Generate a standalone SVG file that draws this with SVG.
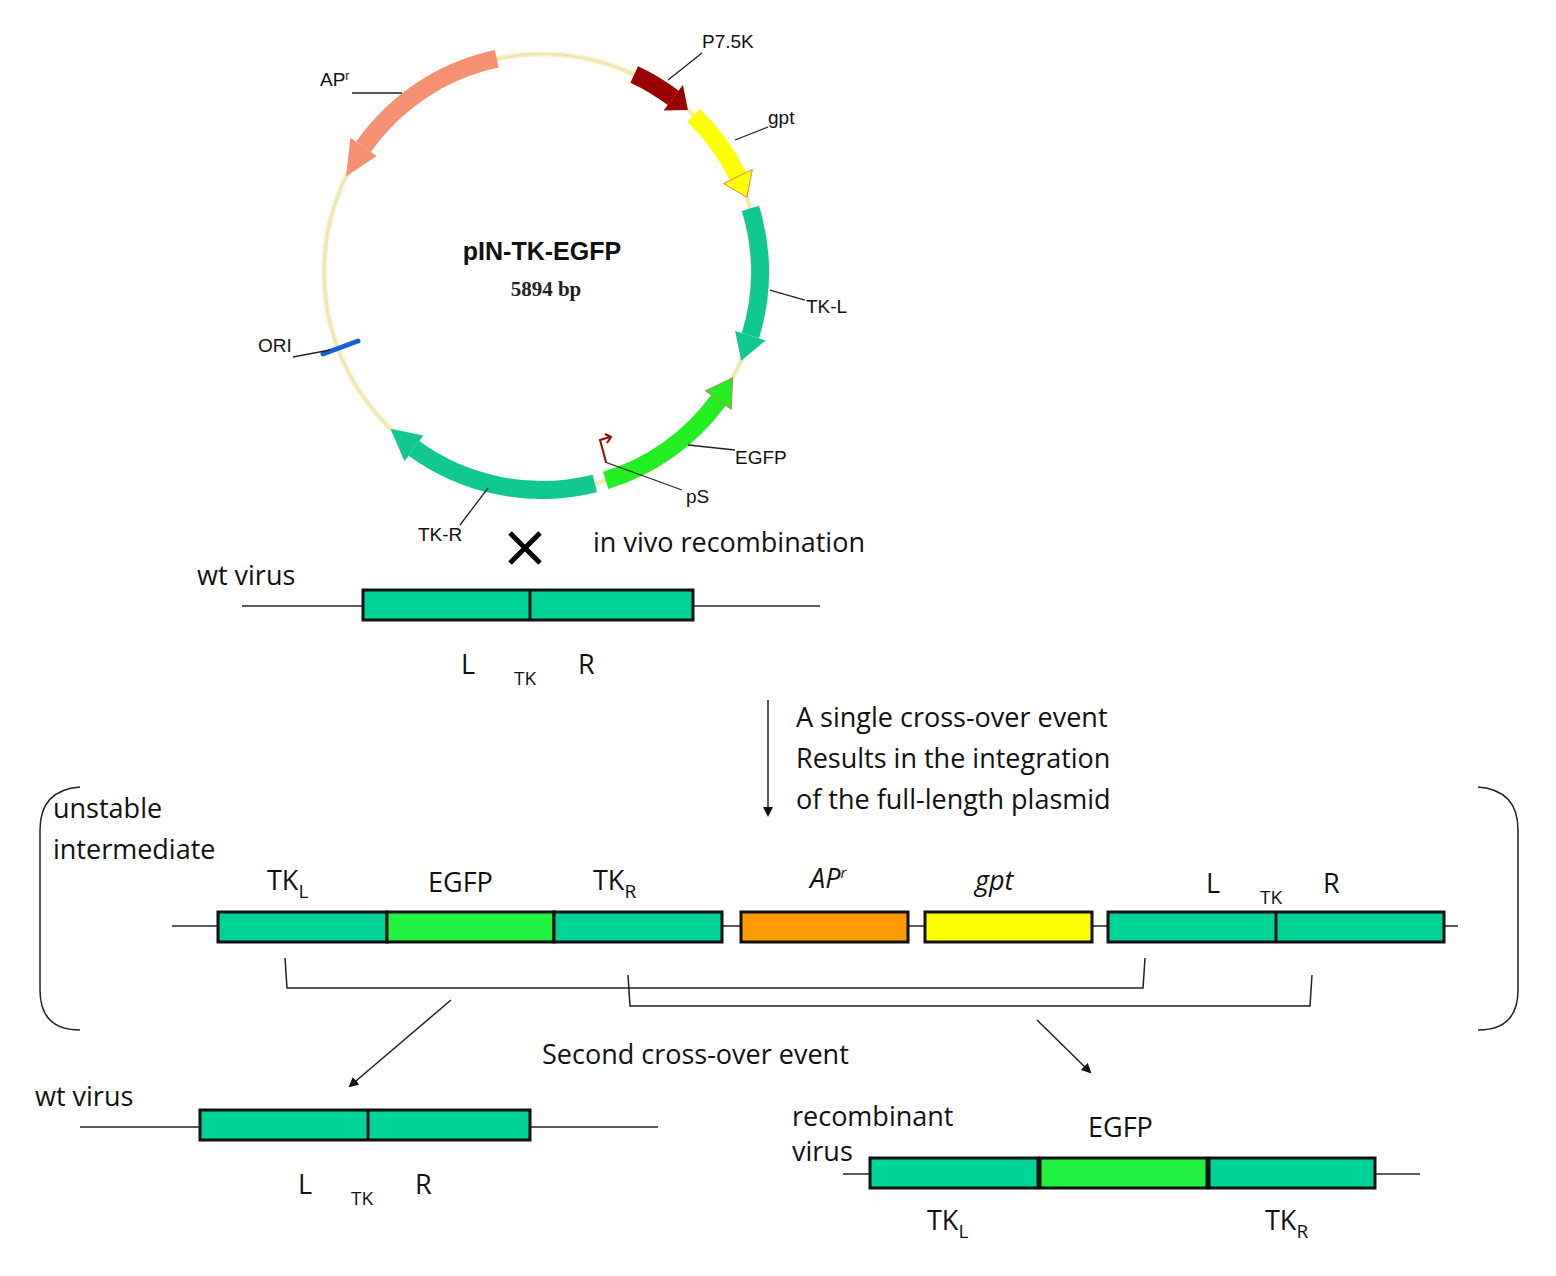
<svg xmlns="http://www.w3.org/2000/svg" width="1556" height="1276" viewBox="0 0 1556 1276">
<style>
.lab{font-family:"Liberation Sans",Arial,sans-serif;font-size:19px;fill:#111}
.t{font-family:"Open Sans","Noto Sans",sans-serif;fill:#111;font-size:27px}
.s{font-size:19px}
.band{fill:none;stroke-width:18}
.ld{stroke:#222;stroke-width:1.3;fill:none}
.box{stroke:#111;stroke-width:3}
.g{fill:#00d396}
.eg{fill:#22f040}
.ln{stroke:#222;stroke-width:1.5;fill:none}
</style>
<defs><marker id="ah" markerWidth="10" markerHeight="10" refX="8" refY="5" orient="auto" markerUnits="userSpaceOnUse"><path d="M0,0 L10,5 L0,10 z" fill="#111"/></marker></defs>
<rect width="1556" height="1276" fill="#fff"/>
<g id="plasmid">
<circle cx="542" cy="272" r="218" fill="none" stroke="#f4f0c0" stroke-width="5"/>
<circle cx="542" cy="272" r="218" fill="none" stroke="#d8d4a0" stroke-width="0.6"/>
<path class="band" stroke="#f59070" d="M496.7,58.8 A218 218 0 0 0 363.5,146.9"/>
<polygon fill="#f59070" points="350.4,137.7 376.6,156.1 346,176.5"/>
<path class="band" stroke="#9a0000" d="M634.2,74.5 A218 218 0 0 1 673.2,97.9"/>
<polygon fill="#9a0000" points="682.9,85.1 663.6,110.6 687.9,110"/>
<path class="band" stroke="#ffff00" d="M693.5,115.3 A218 218 0 0 1 738,176.5"/>
<polygon fill="#ffff00" stroke="#e06060" stroke-width="0.8" points="752.4,169.4 723.6,183.5 746.9,197.4"/>
<path class="band" stroke="#10c890" d="M750.4,208.3 A218 218 0 0 1 750.4,335.7"/>
<polygon fill="#10c890" points="765.7,340.4 735.1,331.1 741.2,360.7"/>
<path class="band" stroke="#22ee22" d="M605.7,480.4 A218 218 0 0 0 718.4,400.2"/>
<polygon fill="#22ee22" stroke="#e06060" stroke-width="0.8" points="731.3,409.5 705.4,390.8 732.7,377.7"/>
<path class="band" stroke="#10c890" d="M594.8,483.5 A218 218 0 0 1 413.9,448.4"/>
<polygon fill="#10c890" points="404.5,461.3 423.3,435.4 390.5,428.8"/>
<line x1="323" y1="354" x2="358" y2="341" stroke="#1a5fd6" stroke-width="5" stroke-linecap="round"/>
<path d="M606,462 L600,440 L610,437 M605,434 L611,437 L607,443" fill="none" stroke="#a00000" stroke-width="2"/>
<path class="ld" d="M668,80 L702,53 M735,140 L768,127 M770,290 L805,300 M688,445 L735,450 M605,462 L682,490 M488,488 L460,525 M352,93 L402,93 M293,357 L330,350"/>
<text class="lab" x="702" y="48">P7.5K</text>
<text class="lab" x="768" y="124">gpt</text>
<text class="lab" x="806" y="313">TK-L</text>
<text class="lab" x="735" y="464">EGFP</text>
<text class="lab" x="686" y="503">pS</text>
<text class="lab" x="418" y="541">TK-R</text>
<text class="lab" x="320" y="86">AP<tspan font-size="12" dy="-6">r</tspan></text>
<text class="lab" x="258" y="352">ORI</text>
<text x="542" y="260" text-anchor="middle" font-family="'Liberation Sans',Arial,sans-serif" font-weight="bold" font-size="25" fill="#111">pIN-TK-EGFP</text>
<text x="546" y="296" text-anchor="middle" font-family="'Liberation Serif',serif" font-weight="bold" font-size="21" fill="#222">5894 bp</text>
</g>
<g id="wt1">
<path d="M510,533 L540,563 M540,533 L510,563" stroke="#000" stroke-width="5"/>
<text class="t" x="593" y="552">in vivo recombination</text>
<text class="t" x="197" y="585" font-size="23">wt virus</text>
<line class="ln" x1="242" y1="606" x2="820" y2="606"/>
<rect class="box g" x="363" y="590" width="330" height="30"/>
<line class="box" x1="530" y1="590" x2="530" y2="620"/>
<text class="t" x="461" y="674">L</text><text class="t s" x="514" y="685">TK</text><text class="t" x="578" y="674">R</text>
</g>
<g id="connectors">
<line class="ln" stroke-width="2" x1="768" y1="700" x2="768" y2="815" marker-end="url(#ah)"/>
<line class="ln" stroke-width="2" x1="451" y1="1000" x2="350" y2="1086" marker-end="url(#ah)"/>
<line class="ln" stroke-width="2" x1="1037" y1="1020" x2="1090" y2="1072" marker-end="url(#ah)"/>
<path class="ln" stroke-width="2" d="M285,958 L287,988 L1143,988 L1145,958 M628,975 L630,1006 L1310,1006 L1312,975"/>
</g>
<g id="intermediate">
<text class="t" x="796" y="727">A single cross-over event</text>
<text class="t" x="796" y="768">Results in the integration</text>
<text class="t" x="796" y="809">of the full-length plasmid</text>
<path class="ln" stroke-width="2" d="M80,787 Q40,790 40,830 L40,990 Q40,1030 80,1030 M1478,787 Q1518,790 1518,830 L1518,990 Q1518,1030 1478,1030"/>
<text class="t" x="53" y="818">unstable</text>
<text class="t" x="53" y="859">intermediate</text>
<line class="ln" x1="172" y1="926" x2="1458" y2="926"/>
<rect class="box g" x="218" y="912" width="169" height="30"/>
<rect class="box eg" x="387" y="912" width="167" height="30"/>
<rect class="box g" x="554" y="912" width="168" height="30"/>
<rect class="box" fill="#ff9a00" x="741" y="912" width="167" height="30"/>
<rect class="box" fill="#ffff00" x="925" y="912" width="167" height="30"/>
<rect class="box g" x="1108" y="912" width="336" height="30"/>
<line class="box" x1="1276" y1="912" x2="1276" y2="942"/>
<text class="t" x="267" y="890" font-size="25">TK<tspan class="s" dy="8">L</tspan></text>
<text class="t" x="428" y="892">EGFP</text>
<text class="t" x="593" y="890" font-size="25">TK<tspan class="s" dy="8">R</tspan></text>
<text class="t" x="810" y="888" font-style="italic" font-size="25">AP<tspan font-size="15" dy="-10">r</tspan></text>
<text class="t" x="975" y="890" font-style="italic" font-size="25">gpt</text>
<text class="t" x="1206" y="893">L</text><text class="t s" x="1260" y="904">TK</text><text class="t" x="1323" y="893">R</text>
<text class="t" x="542" y="1064">Second cross-over event</text>
</g>
<g id="wt2">
<text class="t" x="35" y="1106" font-size="23">wt virus</text>
<line class="ln" x1="80" y1="1127" x2="658" y2="1127"/>
<rect class="box g" x="200" y="1110" width="330" height="30"/>
<line class="box" x1="368" y1="1110" x2="368" y2="1140"/>
<text class="t" x="298" y="1194">L</text><text class="t s" x="351" y="1205">TK</text><text class="t" x="415" y="1194">R</text>
</g>
<g id="recombinant">
<text class="t" x="792" y="1126" font-size="23">recombinant</text>
<text class="t" x="792" y="1161" font-size="23">virus</text>
<text class="t" x="1088" y="1137">EGFP</text>
<line class="ln" x1="843" y1="1174" x2="1420" y2="1174"/>
<rect class="box g" x="870" y="1158" width="168" height="30"/>
<rect class="box eg" x="1040" y="1158" width="167" height="30"/>
<rect class="box g" x="1209" y="1158" width="166" height="30"/>
<text class="t" x="927" y="1230" font-size="25">TK<tspan class="s" dy="8">L</tspan></text>
<text class="t" x="1265" y="1230" font-size="25">TK<tspan class="s" dy="8">R</tspan></text>
</g>
</svg>
